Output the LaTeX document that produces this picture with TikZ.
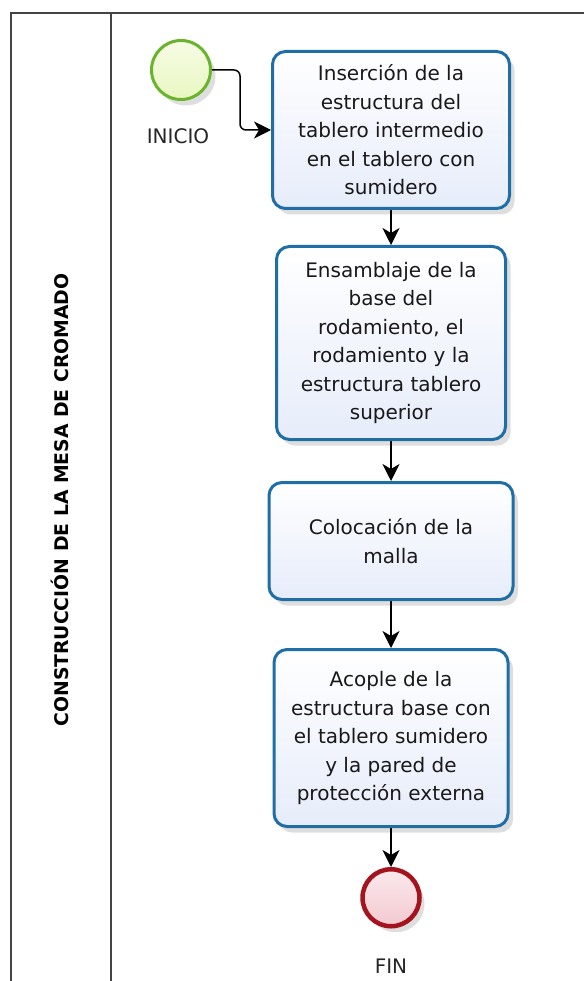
\documentclass[tikz,border=0pt]{standalone}
\usepackage{fontspec}
\setmainfont{DejaVu Sans}
\usetikzlibrary{positioning,arrows.meta,shadows}
\definecolor{taskblue}{HTML}{1F6FA6}
\definecolor{taskfill}{HTML}{E6ECFA}
\definecolor{startgreen}{HTML}{6AB42D}
\definecolor{startfill}{HTML}{E9F7C0}
\definecolor{endred}{HTML}{A3141E}
\definecolor{endfill}{HTML}{F3C9D0}
\definecolor{poolgray}{HTML}{444444}
\tikzset{
    softshadow/.style={drop shadow={shadow xshift=5pt,shadow yshift=-6pt,opacity=.13,fill=black}},
    task/.style={draw=taskblue,line width=3pt,rounded corners=13pt,top color=white,bottom color=taskfill,
        align=center,font=\fontsize{20}{28.5}\selectfont,text=black!90,softshadow},
    startev/.style={circle,draw=startgreen,line width=3pt,minimum size=59pt,inner sep=0pt,
        top color=white!60!startfill,bottom color=startfill,softshadow},
    endev/.style={circle,draw=endred,line width=4.5pt,minimum size=57pt,inner sep=0pt,
        top color=white!60!endfill,bottom color=endfill,softshadow},
    evlabel/.style={font=\fontsize{20}{22}\selectfont,text=black!85},
    flow/.style={draw,line width=1.5pt,-{Stealth[length=17pt,width=17pt,inset=5pt]}},
}

\begin{document}
\begin{tikzpicture}[x=1pt,y=-1pt,node distance=36pt]
    \useasboundingbox (0,0) rectangle (583,981);
    % pool and lane
    \draw[poolgray,line width=2pt] (600,13) -| (11,1000);
    \draw[poolgray,line width=2pt] (111,13) -- (111,1000);
    \node[rotate=90,font=\bfseries\fontsize{18.8}{20}\selectfont] (lane) at (60,500) {CONSTRUCCIÓN DE LA MESA DE CROMADO};

    % events and tasks
    \node[startev] (ini) at (181,70) {};
    \node[evlabel] (inilab) at (178,136) {INICIO};
    \node[task,minimum width=237pt,minimum height=157pt] (t1) at (391,130)
        {Inserción de la\\estructura del\\tablero intermedio\\en el tablero con\\sumidero};
    \node[task,minimum width=229pt,minimum height=193pt,below=35pt of t1] (t2)
        {Ensamblaje de la\\base del\\rodamiento, el\\rodamiento y la\\estructura tablero\\superior};
    \node[task,minimum width=244pt,minimum height=117pt,below=40pt of t2] (t3)
        {Colocación de la\\malla};
    \node[task,minimum width=234pt,minimum height=177pt,below=47pt of t3] (t4)
        {Acople de la\\estructura base con\\el tablero sumidero\\y la pared de\\protección externa};
    \node[endev,below=39pt of t4] (fin) {};
    \node[evlabel] (finlab) at (391,966) {FIN};

    % sequence flows
    \draw[flow,rounded corners=6pt] (ini.east) -- ++(28,0) |- (t1.west);
    \draw[flow] (t1) -- (t2);
    \draw[flow] (t2) -- (t3);
    \draw[flow] (t3) -- (t4);
    \draw[flow] (t4) -- (fin);
\end{tikzpicture}
\end{document}
